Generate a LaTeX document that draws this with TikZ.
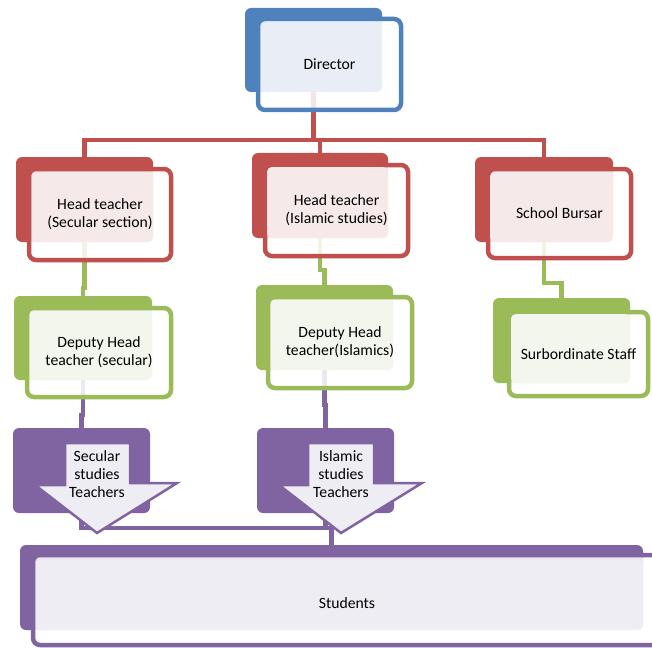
\documentclass[tikz,border=0pt]{standalone}
\usepackage{fontspec}
\setmainfont{Carlito}
\usetikzlibrary{fit,backgrounds}
\definecolor{cblue}{HTML}{4F81BD}
\definecolor{lblue}{HTML}{E9EEF6}
\definecolor{cred}{HTML}{C0504D}
\definecolor{lred}{HTML}{F6E9E9}
\definecolor{cgreen}{HTML}{9BBB59}
\definecolor{lgreen}{HTML}{F3F6ED}
\definecolor{cpurple}{HTML}{8064A2}
\definecolor{lpurple}{HTML}{EFEDF4}
\tikzset{
  backbox/.style={fill=#1, draw=none, inner sep=0pt, outer sep=0pt, rounded corners=6pt},
  outbox/.style={draw=#1, line width=4.5pt, fill=white, fill opacity=0.85, inner sep=0pt, outer sep=0pt, rounded corners=7pt},
  litebox/.style={fill=#1, draw=none, inner sep=0pt, outer sep=0pt, rounded corners=5pt},
  lbl/.style={font=\fontsize{15.7}{18}\selectfont, align=center, text=black, inner sep=0pt},
  conn/.style={draw=#1, line width=4.5pt},
  downarrow/.style={draw=cpurple, fill=lpurple, line width=2.5pt, line join=miter}
}
\begin{document}
\begin{tikzpicture}[x=1pt,y=-1pt]
\useasboundingbox (0,0) rectangle (652,647);
% ---------- Director ----------
\node[backbox=cblue, fit={(245,8) (382,92)}] (dirB) {};
\node[outbox=cblue, fit={(258,19) (401,110)}] (dirO) {};
\node[litebox=lblue, fit={(261,23) (382,92)}] (dirL) {};
\node[lbl] (dirT) at (dirO.center) {Director};
% ---------- Head teacher secular ----------
\node[backbox=cred, fit={(16,157) (153,242)}] (hsB) {};
\node[outbox=cred, fit={(29,169) (171,260)}] (hsO) {};
\node[litebox=lred, fit={(32,172) (153,242)}] (hsL) {};
\node[lbl] (hsT) at (hsO.center) {Head teacher\\(Secular section)};
% ---------- Head teacher islamic ----------
\node[backbox=cred, fit={(252,153) (388,238)}] (hiB) {};
\node[outbox=cred, fit={(265,165) (408,256)}] (hiO) {};
\node[litebox=lred, fit={(267,167) (388,238)}] (hiL) {};
\node[lbl] (hiT) at (hiO.center) {Head teacher\\(Islamic studies)};
% ---------- School Bursar ----------
\node[backbox=cred, fit={(475,157) (613,242)}] (buB) {};
\node[outbox=cred, fit={(488,169) (631,258)}] (buO) {};
\node[litebox=lred, fit={(490,172) (613,242)}] (buL) {};
\node[lbl] (buT) at (buO.center) {School Bursar};
% ---------- Deputy secular ----------
\node[backbox=cgreen, fit={(14,296) (152,380)}] (dsB) {};
\node[outbox=cgreen, fit={(27,308) (171,397)}] (dsO) {};
\node[litebox=lgreen, fit={(30,311) (152,380)}] (dsL) {};
\node[lbl] (dsT) at (dsO.center) {Deputy Head\\teacher (secular)};
% ---------- Deputy islamic ----------
\node[backbox=cgreen, fit={(256,285) (393,370)}] (diB) {};
\node[outbox=cgreen, fit={(268,297) (412,388)}] (diO) {};
\node[litebox=lgreen, fit={(271,300) (393,370)}] (diL) {};
\node[lbl] (diT) at (diO.center) {Deputy Head\\teacher(Islamics)};
% ---------- Subordinate staff ----------
\node[backbox=cgreen, fit={(493,298) (630,383)}] (ssB) {};
\node[outbox=cgreen, fit={(509,312) (648,396)}] (ssO) {};
\node[litebox=lgreen, fit={(511,314) (630,383)}] (ssL) {};
\node[lbl] (ssT) at (ssO.center) {Surbordinate Staff};
% ---------- Teachers ----------
\node[backbox=cpurple, fit={(13,428) (150,513)}] (stB) {};
\draw[downarrow] (65,443) -- (130,443) -- (130,483) -- (177,483) -- (97,533) -- (35,485) -- (65,485) -- cycle;
\node[lbl] (stT) at (97,474) {Secular\\studies\\Teachers};
\node[backbox=cpurple, fit={(257,428) (394,513)}] (itB) {};
\draw[downarrow] (308,443) -- (374,443) -- (374,483) -- (422,483) -- (341,533) -- (279,485) -- (308,485) -- cycle;
\node[lbl] (itT) at (341,474) {Islamic\\studies\\Teachers};
% ---------- Students ----------
\node[backbox=cpurple, fit={(20,545) (643,630)}] (suB) {};
\node[outbox=cpurple, fit={(33,555) (665,645)}] (suO) {};
\node[litebox=lpurple, fit={(36,560) (643,630)}] (suL) {};
\node[lbl] (suT) at (347,603) {Students};
% ---------- Connectors ----------
\coordinate (redbus) at (0,140);
\begin{scope}[on background layer]
\draw[conn=cred] (dirB.south) -- (dirB.south |- redbus) -| (hsB.north);
\draw[conn=cred] (dirB.south |- redbus) -| (hiB.north);
\draw[conn=cred] (dirB.south |- redbus) -| (buB.north);
\coordinate (g1) at (0,288);
\coordinate (g2) at (0,270);
\coordinate (g3) at (0,283);
\draw[conn=cgreen] (hsB.south) -- (hsB.south |- g1) -| (dsB.north);
\draw[conn=cgreen] (hiB.south) -- (hiB.south |- g2) -| (diB.north);
\draw[conn=cgreen] (buB.south) -- (buB.south |- g3) -| (ssB.north);
\coordinate (p1) at (0,415);
\coordinate (p2) at (0,405);
\coordinate (p3) at (0,528);
\draw[conn=cpurple] (dsB.south) -- (dsB.south |- p1) -| (stB.north);
\draw[conn=cpurple] (diB.south) -- (diB.south |- p2) -| (itB.north);
\draw[conn=cpurple] (stB.south) -- (stB.south |- p3) -| (suB.north);
\draw[conn=cpurple] (itB.south) -- (itB.south |- p3) -| (suB.north);
\end{scope}
\end{tikzpicture}
\end{document}
